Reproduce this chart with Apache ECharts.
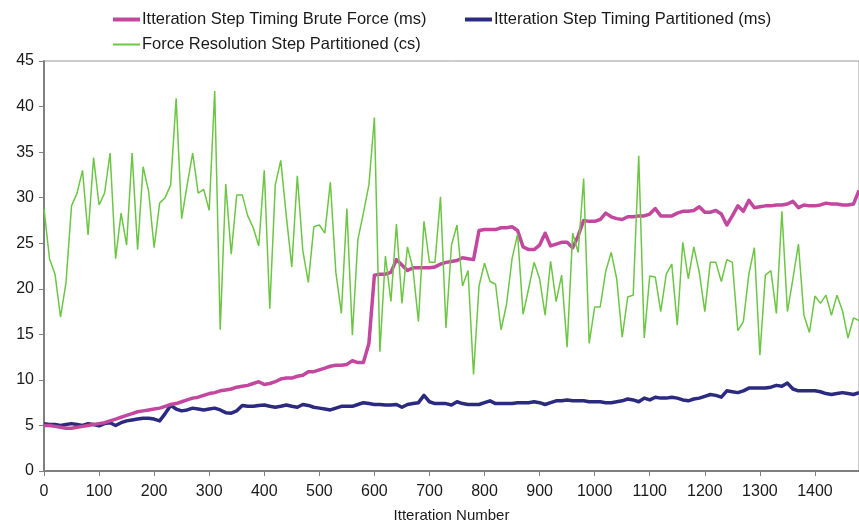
<!DOCTYPE html>
<html>
<head>
<meta charset="utf-8">
<script src="https://cdn.jsdelivr.net/npm/echarts@6/dist/echarts.min.js"></script>
<style>
html,body{margin:0;padding:0;background:#fff;overflow:hidden;}
#chart{width:859px;height:528px;}
</style>
</head>
<body>
<div id="chart"></div>
<script>
// Iteration numbers (every 10 iterations)
const iterations = [];
for (let i = 0; i <= 1480; i += 10) iterations.push(i);

const bruteForce = [
5.0,5.0,4.9,4.8,4.7,4.7,4.8,4.9,5.0,5.1,
5.2,5.3,5.5,5.7,5.9,6.1,6.3,6.5,6.6,6.7,
6.8,6.9,7.1,7.3,7.4,7.6,7.8,8.0,8.1,8.3,
8.5,8.6,8.8,8.9,9.0,9.2,9.3,9.4,9.6,9.8,
9.5,9.6,9.8,10.1,10.2,10.2,10.4,10.5,10.9,10.9,
11.1,11.3,11.5,11.6,11.6,11.7,12.1,11.9,11.9,14.0,
21.5,21.6,21.6,21.8,23.2,22.6,22.0,22.3,22.3,22.3,
22.3,22.4,22.7,22.9,23.0,23.1,23.4,23.3,23.2,26.4,
26.5,26.5,26.5,26.7,26.7,26.8,26.4,24.6,24.3,24.3,
24.8,26.1,24.7,24.9,25.1,25.1,24.5,25.8,27.5,27.4,
27.4,27.6,28.3,27.9,27.7,27.6,27.9,27.9,28.0,28.0,
28.2,28.8,28.0,28.0,28.0,28.3,28.5,28.5,28.6,29.0,
28.4,28.4,28.6,28.2,27.0,28.0,29.1,28.5,29.7,28.9,
29.0,29.1,29.1,29.2,29.2,29.3,29.6,28.9,29.2,29.1,
29.1,29.2,29.4,29.3,29.3,29.2,29.2,29.3,30.8
];

const partitioned = [
5.2,5.1,5.1,5.0,5.1,5.2,5.1,5.0,5.2,5.1,
4.95,5.2,5.3,5.0,5.3,5.5,5.6,5.7,5.8,5.8,
5.7,5.5,6.3,7.2,6.8,6.6,6.7,6.9,6.8,6.7,
6.8,6.9,6.7,6.4,6.35,6.6,7.2,7.1,7.1,7.2,
7.25,7.1,7.0,7.1,7.25,7.1,7.0,7.3,7.2,7.0,
6.9,6.8,6.7,6.9,7.1,7.1,7.1,7.3,7.5,7.4,
7.3,7.3,7.25,7.25,7.3,7.0,7.3,7.4,7.5,8.3,
7.6,7.4,7.4,7.4,7.25,7.6,7.4,7.3,7.3,7.3,
7.5,7.7,7.4,7.4,7.4,7.4,7.5,7.5,7.5,7.6,
7.5,7.3,7.5,7.7,7.7,7.8,7.7,7.7,7.7,7.6,
7.6,7.6,7.5,7.5,7.6,7.7,7.9,7.8,7.6,8.0,
7.8,8.1,8.0,8.0,8.1,8.0,7.8,7.7,7.9,8.0,
8.2,8.4,8.3,8.1,8.8,8.7,8.6,8.8,9.1,9.1,
9.1,9.1,9.2,9.4,9.3,9.65,9.0,8.8,8.8,8.8,
8.8,8.7,8.5,8.4,8.5,8.6,8.5,8.4,8.6
];

const forceResolution = [
28.8,23.3,21.6,16.9,20.7,29.1,30.5,33.0,25.9,34.4,
29.2,30.5,34.9,23.3,28.3,24.8,34.9,24.3,33.4,30.7,
24.5,29.4,30.0,31.4,40.9,27.7,31.4,34.9,30.5,30.9,
28.6,41.7,15.5,31.5,23.8,30.3,30.3,28.0,26.7,24.7,
33.0,17.8,31.4,34.1,28.0,22.4,32.4,24.2,20.7,26.8,
27.0,26.1,31.7,21.8,17.3,28.8,14.9,25.4,28.3,31.4,
38.8,13.1,23.6,18.6,27.1,18.4,24.6,22.2,16.4,27.4,
22.9,22.9,30.1,15.7,24.8,27.0,20.3,22.0,10.6,20.3,
22.8,20.8,20.5,15.5,18.3,23.3,26.0,17.2,20.0,22.9,
21.1,17.1,23.0,18.6,21.5,13.6,26.1,24.0,32.1,14.0,
18.0,18.0,21.9,24.0,21.1,14.7,19.1,19.3,34.6,14.6,
21.4,21.3,17.5,21.6,22.7,16.0,25.1,21.1,24.6,21.8,
17.5,22.9,22.9,20.8,23.2,22.9,15.4,16.4,21.6,24.5,
12.7,21.5,22.0,17.3,28.5,17.5,21.1,24.9,17.1,15.2,
19.2,18.4,19.3,17.1,19.3,17.6,14.6,16.8,16.5
];

const seriesNames = [
  'Itteration Step Timing Brute Force (ms)',
  'Itteration Step Timing Partitioned (ms)',
  'Force Resolution Step Partitioned (cs)'
];
const colors = ['#C4479F', '#2B2A80', '#6CC644'];

function pairs(vals) { return vals.map((v, i) => [iterations[i], v]); }

const FONT = '"Liberation Sans", Arial, sans-serif';
const chart = echarts.init(document.getElementById('chart'), null, {renderer: 'canvas', width: 859, height: 528});

const legendBase = {
  icon: 'rect',
  itemWidth: 27,
  itemGap: 0,
  textStyle: {fontFamily: FONT, fontSize: 16.5, color: '#1a1a1a', padding: [0, 0, 0, -3]},
  selectedMode: false
};

chart.setOption({
  animation: false,
  backgroundColor: '#fff',
  legend: [
    Object.assign({}, legendBase, {data: [seriesNames[0]], left: 108, top: 6, itemHeight: 4}),
    Object.assign({}, legendBase, {data: [seriesNames[1]], left: 460, top: 6, itemHeight: 4}),
    Object.assign({}, legendBase, {data: [seriesNames[2]], left: 108, top: 31, itemHeight: 2})
  ],
  grid: {left: 44, top: 61, right: 0, bottom: 44, show: true, borderColor: '#9a9a9a', borderWidth: 1},
  xAxis: {
    type: 'value',
    min: 0, max: 1480, interval: 100,
    name: 'Itteration Number',
    nameLocation: 'middle',
    nameGap: 37,
    nameTextStyle: {fontFamily: FONT, fontSize: 15, color: '#1a1a1a'},
    axisLine: {lineStyle: {color: '#7f7f7f', width: 2}},
    axisTick: {show: true, length: 5, lineStyle: {color: '#7f7f7f', width: 1}},
    axisLabel: {fontFamily: FONT, fontSize: 16, color: '#1a1a1a', margin: 13, showMaxLabel: false,
      formatter: function (v) { return String(v); }},
    splitLine: {show: false}
  },
  yAxis: {
    type: 'value',
    min: 0, max: 45, interval: 5,
    axisLine: {show: true, lineStyle: {color: '#7f7f7f', width: 2}},
    axisTick: {show: true, length: 5, lineStyle: {color: '#7f7f7f', width: 1}},
    axisLabel: {fontFamily: FONT, fontSize: 16, color: '#1a1a1a', margin: 10},
    splitLine: {show: false}
  },
  series: [
    {
      name: seriesNames[1], type: 'line', data: pairs(partitioned),
      showSymbol: false, symbol: 'none', color: colors[1],
      lineStyle: {width: 3.5, color: colors[1], join: 'round'}, z: 2
    },
    {
      name: seriesNames[0], type: 'line', data: pairs(bruteForce),
      showSymbol: false, symbol: 'none', color: colors[0],
      lineStyle: {width: 3.5, color: colors[0], join: 'round'}, z: 3
    },
    {
      name: seriesNames[2], type: 'line', data: pairs(forceResolution),
      showSymbol: false, symbol: 'none', color: colors[2],
      lineStyle: {width: 1.5, color: colors[2]}, z: 4
    }
  ]
});
</script>
</body>
</html>
